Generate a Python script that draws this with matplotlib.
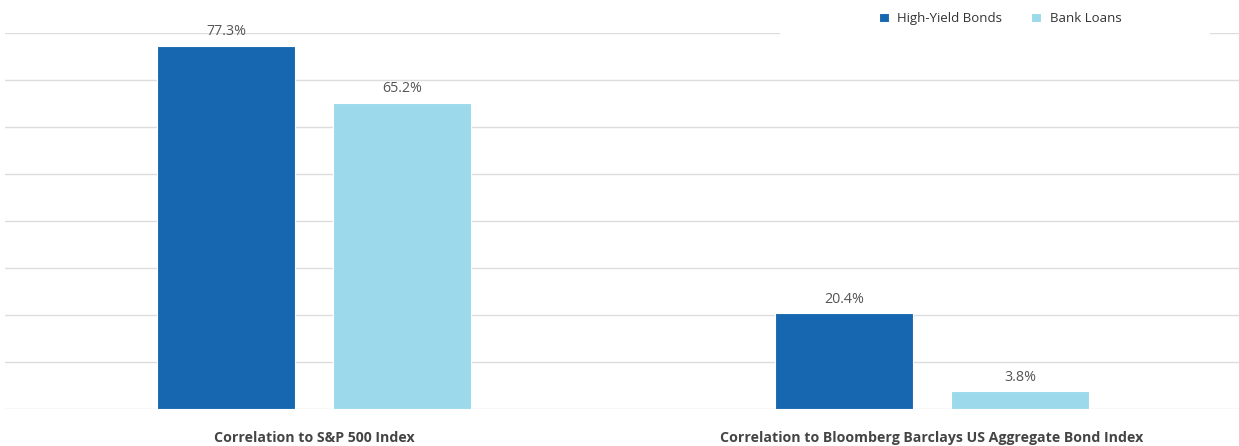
import numpy as np
import matplotlib.pyplot as plt
from matplotlib.patches import Rectangle

# Data
categories = ['Correlation to S&P 500 Index',
              'Correlation to Bloomberg Barclays US Aggregate Bond Index']
high_yield = [77.3, 20.4]
bank_loans = [65.2, 3.8]
series_names = ['High-Yield Bonds', 'Bank Loans']
colors = ['#1767B0', '#9BD9EB']

plt.rcParams['font.family'] = ['Open Sans', 'DejaVu Sans']

fig = plt.figure(figsize=(12.39, 4.46), dpi=100)
ax = fig.add_axes([5 / 1239, 37 / 446, 1236 / 1239, 376 / 446])

x = np.arange(len(categories))
width = 0.223
offset = 0.1425

b1 = ax.bar(x - offset, high_yield, width, color=colors[0], label=series_names[0],
            edgecolor='white', linewidth=0.8, zorder=3)
b2 = ax.bar(x + offset, bank_loans, width, color=colors[1], label=series_names[1],
            edgecolor='white', linewidth=0.8, zorder=3)

for bars in (b1, b2):
    for rect in bars:
        h = rect.get_height()
        ax.annotate(f'{h:.1f}%', (rect.get_x() + rect.get_width() / 2, h),
                    xytext=(0, 4.5), textcoords='offset points', ha='center', va='bottom',
                    fontsize=10.3, color='#555555', zorder=4)

ax.set_xlim(-0.5, 1.5)
ax.set_ylim(0, 80)
ax.set_yticks(np.arange(0, 81, 10))
ax.yaxis.grid(True, color='#DDDDDD', linewidth=1)
ax.set_axisbelow(True)
ax.tick_params(axis='y', left=False, labelleft=False)
ax.tick_params(axis='x', length=0, pad=16)
ax.set_xticks(x)
ax.set_xticklabels(categories, fontsize=10.2, fontweight='bold', color='#444444')
for s in ax.spines.values():
    s.set_visible(False)

# white box behind the legend hides the top gridline there
fig.patches.append(Rectangle((780 / 1239, 1 - 40 / 446), 430 / 1239, 40 / 446,
                             transform=fig.transFigure, facecolor='white',
                             edgecolor='none', zorder=2))

leg = fig.legend(loc='center', bbox_to_anchor=(1000 / 1239, 1 - 18.5 / 446), ncol=2,
                 frameon=False, fontsize=9.5, handlelength=0.75, handleheight=0.75,
                 columnspacing=2.2, handletextpad=0.65, borderaxespad=0)
leg.set_zorder(5)
for t in leg.get_texts():
    t.set_color('#333333')

fig.savefig('out.png', dpi=100)
